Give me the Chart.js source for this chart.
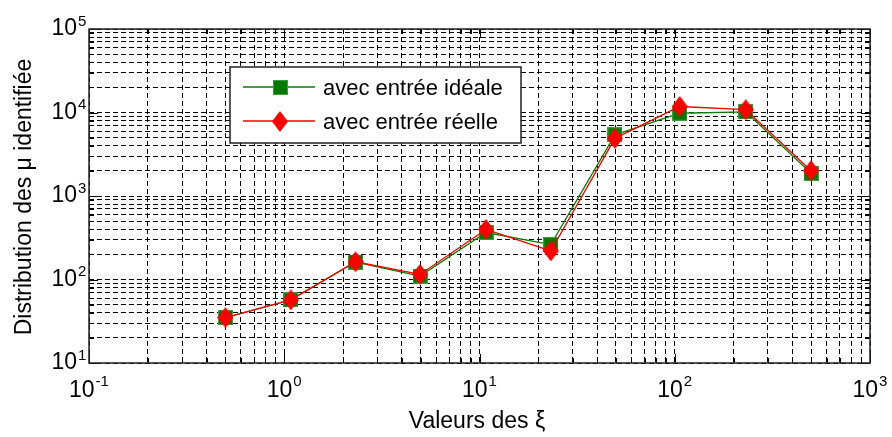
<!DOCTYPE html>
<html>
<head>
<meta charset="utf-8">
<script src="https://cdn.jsdelivr.net/npm/chart.js@4"></script>
<style>
  html, body { margin: 0; padding: 0; background: #fff; }
  #wrap { width: 892px; height: 437px; }
</style>
</head>
<body>
<div id="wrap"><canvas id="chart" width="892" height="437"></canvas></div>
<script>
// values
const xiValues = [0.5, 1.08, 2.32, 4.96, 10.8, 23.2, 49.4, 106, 231, 499];
const idealCounts = [35, 57, 162, 110, 365, 262, 5400, 9800, 10200, 1870];
const realCounts = [35, 57, 163, 115, 398, 220, 4900, 11800, 10800, 2010];
const seriesNames = ["avec entrée idéale", "avec entrée réelle"];
const xExponents = [-1, 0, 1, 2, 3];
const yExponents = [1, 2, 3, 4, 5];
const xTitle = "Valeurs des ξ";
const yTitle = "Distribution des μ identifiée";

const FONT = "'Liberation Sans', Arial, sans-serif";
const GREEN = "#008000";
const RED = "#ff0000";

// 1..9 x 10^e for every decade, last decade only its 1
const logGrid = (exps) => {
    const vals = [];
    exps.forEach((e, i) => {
        const base = Math.pow(10, e);
        if (i === exps.length - 1) { vals.push(base); return; }
        for (let k = 1; k <= 9; k++) vals.push(k * base);
    });
    return vals;
};
const isMajor = (v) => Math.abs(Math.log10(v) - Math.round(Math.log10(v))) < 1e-9;

const makeSquare = (s) => {
    const c = document.createElement("canvas");
    c.width = s; c.height = s;
    const g = c.getContext("2d");
    g.fillStyle = "#007a00";
    g.fillRect(0, 0, s, s);
    g.strokeStyle = "#3c9c3c";
    g.lineWidth = 1;
    g.strokeRect(0.5, 0.5, s - 1, s - 1);
    return c;
};
const makeDiamond = (w, h) => {
    const c = document.createElement("canvas");
    c.width = w; c.height = h;
    const g = c.getContext("2d");
    g.fillStyle = RED;
    g.beginPath();
    g.moveTo(w / 2, 0);
    g.lineTo(w, h / 2);
    g.lineTo(w / 2, h);
    g.lineTo(0, h / 2);
    g.closePath();
    g.fill();
    return c;
};
const squareMark = makeSquare(15);
const diamondMark = makeDiamond(16, 21);

const toPoints = (ys) => xiValues.map((x, i) => ({ x: x, y: ys[i] }));

// box, inward ticks (under the data)
const matlabAxes = {
    id: "matlabAxes",
    beforeDatasetsDraw(chart) {
        const { ctx, chartArea: a, scales: { x, y } } = chart;
        ctx.save();
        ctx.strokeStyle = "#000";
        ctx.lineWidth = 1;
        ctx.beginPath();
        x.ticks.forEach(t => {
            const px = Math.round(x.getPixelForValue(t.value)) + 0.5;
            const len = isMajor(t.value) ? 9 : 5;
            ctx.moveTo(px, a.bottom); ctx.lineTo(px, a.bottom - len);
            ctx.moveTo(px, a.top); ctx.lineTo(px, a.top + len);
        });
        y.ticks.forEach(t => {
            const py = Math.round(y.getPixelForValue(t.value)) + 0.5;
            const len = isMajor(t.value) ? 9 : 5;
            ctx.moveTo(a.left, py); ctx.lineTo(a.left + len, py);
            ctx.moveTo(a.right, py); ctx.lineTo(a.right - len, py);
        });
        ctx.stroke();
        ctx.lineWidth = 1.5;
        ctx.strokeStyle = "#222";
        ctx.strokeRect(a.left, a.top, a.right - a.left, a.bottom - a.top);
        ctx.restore();
    },
    afterDraw(chart) {
        const { ctx, scales: { x, y } } = chart;
        ctx.save();
        ctx.fillStyle = "#000";

        // tick labels 10^n
        const big = "23px " + FONT, small = "15px " + FONT;
        xExponents.forEach(e => {
            const px = x.getPixelForValue(Math.pow(10, e));
            ctx.font = big;
            const wb = ctx.measureText("10").width;
            ctx.font = small;
            const we = ctx.measureText(String(e)).width;
            const start = px - (wb + we + 1) / 2;
            ctx.textAlign = "left";
            ctx.textBaseline = "alphabetic";
            ctx.font = big;
            ctx.fillText("10", start, 397);
            ctx.font = small;
            ctx.fillText(String(e), start + wb + 1, 386);
        });
        yExponents.forEach(e => {
            const py = y.getPixelForValue(Math.pow(10, e));
            ctx.textBaseline = "alphabetic";
            ctx.font = big;
            ctx.textAlign = "right";
            ctx.fillText("10", 77, py + 6);
            ctx.font = small;
            ctx.textAlign = "left";
            ctx.fillText(String(e), 78, py - 3.5);
        });

        // axis titles
        ctx.font = "23px " + FONT;
        ctx.textAlign = "center";
        ctx.fillText(xTitle, 477, 428);
        ctx.save();
        ctx.translate(31, 197);
        ctx.rotate(-Math.PI / 2);
        ctx.fillText(yTitle, 0, 0);
        ctx.restore();

        // legend
        const box = { l: 230, t: 67, w: 291, h: 76 };
        ctx.fillStyle = "#fff";
        ctx.fillRect(box.l, box.t, box.w, box.h);
        ctx.lineWidth = 1.5;
        ctx.strokeStyle = "#222";
        ctx.strokeRect(box.l, box.t, box.w, box.h);
        const rows = [
            { y: 87, color: GREEN, mark: squareMark, label: seriesNames[0] },
            { y: 121, color: RED, mark: diamondMark, label: seriesNames[1] }
        ];
        rows.forEach(r => {
            ctx.strokeStyle = r.color;
            ctx.lineWidth = 1.3;
            ctx.beginPath();
            ctx.moveTo(243, r.y); ctx.lineTo(315, r.y);
            ctx.stroke();
            ctx.drawImage(r.mark, Math.round(280 - r.mark.width / 2), Math.round(r.y - r.mark.height / 2));
            ctx.fillStyle = "#000";
            ctx.font = "22px " + FONT;
            ctx.textAlign = "left";
            ctx.textBaseline = "alphabetic";
            ctx.fillText(r.label, 323, r.y + 7.5);
        });
        ctx.restore();
    }
};

const gridScale = (min, max, exps) => ({
    type: "logarithmic",
    min: min,
    max: max,
    afterBuildTicks: (scale) => {
        scale.ticks = logGrid(exps).map(v => ({ value: v, major: isMajor(v) }));
    },
    ticks: { display: false },
    grid: { color: "#000", lineWidth: 1, drawTicks: false },
    border: { display: false, dash: [5, 3] }
});

new Chart(document.getElementById("chart"), {
    type: "line",
    data: {
        datasets: [
            {
                label: seriesNames[0],
                data: toPoints(idealCounts),
                borderColor: GREEN,
                backgroundColor: GREEN,
                borderWidth: 1.3,
                pointStyle: squareMark,
                pointRadius: 8,
                tension: 0,
                order: 1
            },
            {
                label: seriesNames[1],
                data: toPoints(realCounts),
                borderColor: RED,
                backgroundColor: RED,
                borderWidth: 1.3,
                pointStyle: diamondMark,
                pointRadius: 8,
                tension: 0,
                order: 0
            }
        ]
    },
    options: {
        responsive: false,
        animation: false,
        layout: { padding: { left: 89, right: 22, top: 29, bottom: 74 } },
        plugins: { legend: { display: false }, tooltip: { enabled: false } },
        scales: {
            x: gridScale(0.1, 1000, xExponents),
            y: gridScale(10, 100000, yExponents)
        }
    },
    plugins: [matlabAxes]
});
</script>
</body>
</html>
